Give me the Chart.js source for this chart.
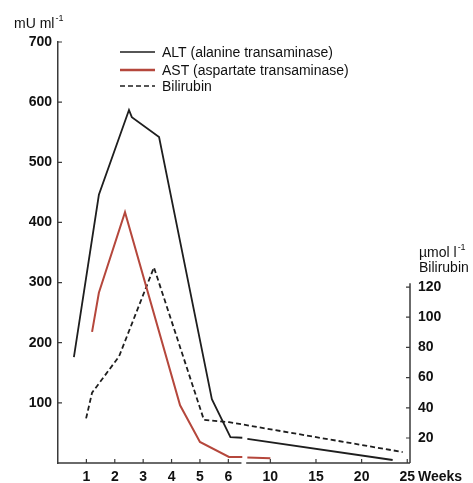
<!DOCTYPE html>
<html>
<head>
<meta charset="utf-8">
<script src="https://cdn.jsdelivr.net/npm/chart.js@4/dist/chart.umd.min.js"></script>
<style>
  html, body { margin: 0; padding: 0; background: #ffffff; }
  #wrap { width: 473px; height: 483px; position: relative; }
</style>
</head>
<body>
<div id="wrap"><canvas id="c" width="473" height="483"></canvas></div>
<script>
// ---------------- DATA ----------------
const altWeeks   = [0.56, 1.44, 2.5, 2.6, 3.56, 5.42, 6.2, 7.33, 7.55, 7.81, 23.4];
const altValues  = [176, 446, 587, 575, 542, 106, 43, 42, null, 40, 5];

const astWeeks   = [1.2, 1.44, 2.36, 4.3, 5.0, 6.06, 7.33, 7.55, 7.81, 10.0];
const astValues  = [218, 283, 417, 96, 35, 10, 10, null, 9, 8];

const biliWeeks  = [0.99, 1.2, 2.15, 3.38, 5.14, 6.06, 24.5];
const biliValues = [33, 50, 74, 133, 32, 30.5, 10.7];   // µmol l-1 (right axis)

const xTicks  = [1, 2, 3, 4, 5, 6, 10, 15, 20, 25];
const yTicks  = [100, 200, 300, 400, 500, 600, 700];
const y2Ticks = [20, 40, 60, 80, 100, 120];

const seriesLabels = ['ALT (alanine transaminase)', 'AST (aspartate transaminase)', 'Bilirubin'];
const leftTitle  = ['mU ml', '-1'];
const rightTitle = ['\u00b5mol l', '-1', 'Bilirubin'];
const xTitle = 'Weeks';

// ---------------- BROKEN WEEK SCALE ----------------
const { LinearScale } = Chart;
const EARLY_END = 6, MID_END = 10, MID_RATE = 0.37, LATE_RATE = 0.3215;
class BrokenWeekScale extends LinearScale {
  static id = 'brokenWeek';
  static defaults = LinearScale.defaults;
  _unit(w) {
    if (w <= EARLY_END) return w;
    if (w <= MID_END) return EARLY_END + (w - EARLY_END) * MID_RATE;
    return EARLY_END + (MID_END - EARLY_END) * MID_RATE + (w - MID_END) * LATE_RATE;
  }
  getPixelForValue(value) {
    if (value === null || value === undefined || isNaN(value)) return NaN;
    const u0 = this._unit(this.min), u1 = this._unit(this.max);
    return this.left + (this._unit(value) - u0) / (u1 - u0) * this.width;
  }
  getValueForPixel(pixel) {
    const u0 = this._unit(this.min), u1 = this._unit(this.max);
    const u = u0 + (pixel - this.left) / this.width * (u1 - u0);
    const uMid = this._unit(MID_END);
    if (u <= EARLY_END) return u;
    if (u <= uMid) return EARLY_END + (u - EARLY_END) / MID_RATE;
    return MID_END + (u - uMid) / LATE_RATE;
  }
}
Chart.register(BrokenWeekScale);

// ---------------- STYLE ----------------
const FONT = '"Liberation Sans", Arial, sans-serif';
const TEXT = '#111111';
const AXIS = '#3a3a3a';
const RED = '#b5473c';
const BLACK = '#1e1e1e';

const toXY = (xs, ys) => xs.map((x, i) => ({ x: x, y: ys[i] }));

const decor = {
  id: 'decor',
  afterDraw(chart) {
    const ctx = chart.ctx;
    const xs = chart.scales.x, ys = chart.scales.y, y2 = chart.scales.y2;
    const ca = chart.chartArea;
    ctx.save();
    ctx.strokeStyle = AXIS;
    ctx.lineWidth = 1.5;
    // x axis line with break
    const b0 = xs.getPixelForValue(7.25), b1 = xs.getPixelForValue(7.7);
    ctx.beginPath();
    ctx.moveTo(ca.left - 1, ca.bottom); ctx.lineTo(b0, ca.bottom);
    ctx.moveTo(b1, ca.bottom); ctx.lineTo(ca.right, ca.bottom);
    ctx.stroke();
    // right axis line (partial)
    ctx.beginPath();
    ctx.moveTo(ca.right, ca.bottom);
    ctx.lineTo(ca.right, y2.getPixelForValue(122.5));
    ctx.stroke();
    // inward ticks
    ctx.lineWidth = 1.2;
    ctx.beginPath();
    xs.ticks.forEach((t, i) => { const p = xs.getPixelForTick(i); ctx.moveTo(p, ca.bottom); ctx.lineTo(p, ca.bottom - 4); });
    ys.ticks.forEach((t, i) => { const p = ys.getPixelForTick(i); ctx.moveTo(ca.left, p); ctx.lineTo(ca.left + 4, p); });
    y2.ticks.forEach((t, i) => { const p = y2.getPixelForTick(i); ctx.moveTo(ca.right, p); ctx.lineTo(ca.right - 4, p); });
    ctx.stroke();

    // titles
    ctx.fillStyle = TEXT;
    ctx.textBaseline = 'alphabetic';
    ctx.textAlign = 'left';
    ctx.font = '14px ' + FONT;
    ctx.fillText(leftTitle[0], 14, 28);
    let w = ctx.measureText(leftTitle[0]).width;
    ctx.font = '9px ' + FONT;
    ctx.fillText(leftTitle[1], 14 + w + 1, 21);

    ctx.font = '14px ' + FONT;
    ctx.fillText(rightTitle[0], 419, 257);
    w = ctx.measureText(rightTitle[0]).width;
    ctx.font = '9px ' + FONT;
    ctx.fillText(rightTitle[1], 419 + w + 1, 250);
    ctx.font = '14px ' + FONT;
    ctx.fillText(rightTitle[2], 419, 272);

    ctx.textBaseline = 'middle';
    ctx.font = 'bold 14px ' + FONT;
    ctx.fillText(xTitle, 418, 477);

    // legend
    const rows = [52, 70, 86];
    chart.data.datasets.forEach((ds, i) => {
      ctx.save();
      ctx.strokeStyle = ds.borderColor;
      ctx.lineWidth = i === 1 ? 2.5 : 1.3;
      ctx.setLineDash(ds.borderDash || []);
      ctx.beginPath();
      ctx.moveTo(120, rows[i]); ctx.lineTo(155, rows[i]);
      ctx.stroke();
      ctx.restore();
      ctx.fillStyle = TEXT;
      ctx.font = '14px ' + FONT;
      ctx.textBaseline = 'middle';
      ctx.fillText(ds.label, 162, rows[i] + 1);
    });
    ctx.restore();
  }
};

new Chart(document.getElementById('c'), {
  type: 'line',
  data: {
    datasets: [
      { label: seriesLabels[0], data: toXY(altWeeks, altValues), yAxisID: 'y',
        borderColor: BLACK, borderWidth: 1.8 },
      { label: seriesLabels[1], data: toXY(astWeeks, astValues), yAxisID: 'y',
        borderColor: RED, borderWidth: 2 },
      { label: seriesLabels[2], data: toXY(biliWeeks, biliValues), yAxisID: 'y2',
        borderColor: BLACK, borderWidth: 1.8, borderDash: [5, 3] }
    ]
  },
  options: {
    responsive: false,
    animation: false,
    events: [],
    spanGaps: false,
    elements: {
      point: { radius: 0 },
      line: { tension: 0, borderJoinStyle: 'miter', borderCapStyle: 'butt', fill: false }
    },
    layout: { padding: { top: 42, left: 0, right: 0, bottom: 0 } },
    plugins: { legend: { display: false }, tooltip: { enabled: false } },
    scales: {
      x: {
        type: 'brokenWeek', position: 'bottom', min: 0, max: 25.3,
        grid: { display: false, drawTicks: false },
        border: { display: false },
        afterBuildTicks: s => { s.ticks = xTicks.map(v => ({ value: v })); },
        afterFit: s => { s.height = 20; },
        ticks: { padding: 6, maxRotation: 0, autoSkip: false, color: TEXT, font: { family: FONT, size: 14, weight: 'bold' } }
      },
      y: {
        type: 'linear', position: 'left', min: 0, max: 700,
        grid: { display: false, drawTicks: false },
        border: { display: true, color: AXIS, width: 1.5 },
        afterBuildTicks: s => { s.ticks = yTicks.map(v => ({ value: v })); },
        afterFit: s => { s.width = 58; },
        ticks: { padding: 6, color: TEXT, font: { family: FONT, size: 14, weight: 'bold' } }
      },
      y2: {
        type: 'linear', position: 'right', min: 3.44, max: 282.3,
        grid: { display: false, drawTicks: false },
        border: { display: false },
        afterBuildTicks: s => { s.ticks = y2Ticks.map(v => ({ value: v })); },
        afterFit: s => { s.width = 63; },
        ticks: { padding: 8, color: TEXT, font: { family: FONT, size: 14, weight: 'bold' } }
      }
    }
  },
  plugins: [decor]
});
</script>
</body>
</html>
